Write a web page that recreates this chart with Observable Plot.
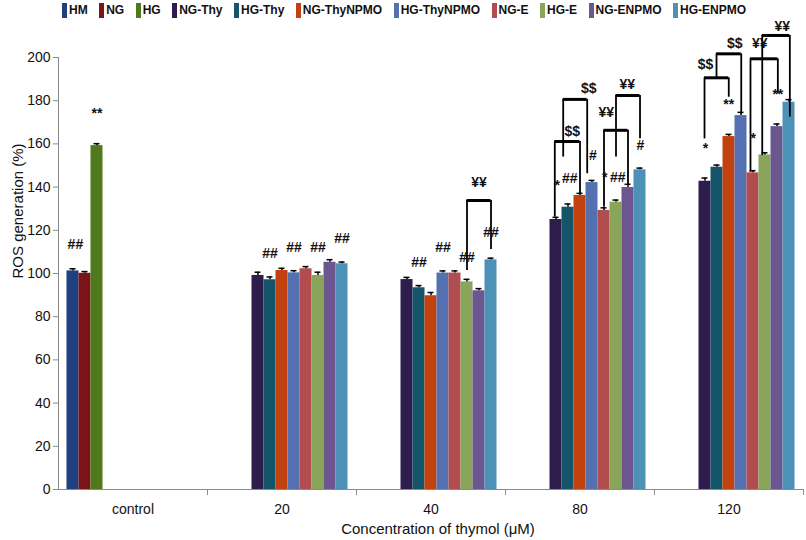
<!DOCTYPE html>
<html><head><meta charset="utf-8">
<script src="https://cdn.jsdelivr.net/npm/d3@7"></script>
<script src="https://cdn.jsdelivr.net/npm/@observablehq/plot@0.6"></script>
<style>
body{margin:0;background:#fff;font-family:"Liberation Sans",Arial,sans-serif;}
#legend{height:20px;display:flex;align-items:center;padding-left:62px;gap:11.5px;font-weight:bold;font-size:12px;color:#111;}
.item{display:flex;align-items:center;gap:2px;white-space:nowrap}
.sw{width:5px;height:15px;display:inline-block}
#chart svg{overflow:visible}
#chart svg text{fill:#111}
</style></head><body>
<div id="legend"></div><div id="chart"></div>
<script>
const categories = ["control", "20", "40", "80", "120"];
const seriesNames = ["HM", "NG", "HG", "NG-Thy", "HG-Thy", "NG-ThyNPMO", "HG-ThyNPMO", "NG-E", "HG-E", "NG-ENPMO", "HG-ENPMO"];
const seriesColors = ["#1f3f7f", "#7b1416", "#4e7a1d", "#2e1d4c", "#145569", "#c1420f", "#5470b0", "#b14d4f", "#88a55a", "#6b5690", "#4e91b7"];
const xTitle = "Concentration of thymol (μM)";
const yTitle = "ROS generation (%)";

// values per category: control, 20, 40, 80, 120
const HM         = [101.2, null, null, null, null];
const NG         = [100.1, null, null, null, null];
const HG         = [159.2, null, null, null, null];
const NG_Thy     = [null, 99.1, 97.2, 125.0, 142.7];
const HG_Thy     = [null, 97.1, 93.4, 130.7, 149.2];
const NG_ThyNPMO = [null, 101.4, 89.7, 136.1, 163.4];
const HG_ThyNPMO = [null, 100.3, 100.2, 142.1, 173.1];
const NG_E       = [null, 102.2, 100.2, 129.2, 146.6];
const HG_E       = [null, 99.1, 96.1, 133.0, 154.9];
const NG_ENPMO   = [null, 105.2, 92.0, 139.8, 168.0];
const HG_ENPMO   = [null, 104.5, 106.3, 148.0, 179.3];

// error (upper) per category
const HM_err         = [1.0, null, null, null, null];
const NG_err         = [0.8, null, null, null, null];
const HG_err         = [0.9, null, null, null, null];
const NG_Thy_err     = [null, 1.5, 1.0, 1.0, 1.5];
const HG_Thy_err     = [null, 1.3, 1.0, 1.5, 1.0];
const NG_ThyNPMO_err = [null, 1.0, 1.5, 1.0, 1.0];
const HG_ThyNPMO_err = [null, 1.0, 1.0, 1.0, 1.5];
const NG_E_err       = [null, 1.0, 1.0, 1.2, 1.0];
const HG_E_err       = [null, 1.5, 1.2, 1.0, 1.0];
const NG_ENPMO_err   = [null, 1.2, 1.0, 1.5, 1.2];
const HG_ENPMO_err   = [null, 0.8, 0.8, 0.8, 1.2];

// significance labels: [category, slot (series index), y value, text]
const sigLabels = [
  ["control", 0.2, 113.4, "##"], ["control", 2.0, 174, "**"],
  ["20", 4, 109.3, "##"], ["20", 6, 112, "##"], ["20", 8, 112, "##"], ["20", 10, 116.2, "##"],
  ["40", 4, 105, "##"], ["40", 6, 112, "##"], ["40", 8, 107.4, "##"], ["40", 10, 119, "##"], ["40", 9, 142.1, "¥¥"],
  ["80", 3.1, 140.7, "*"], ["80", 4.15, 143.8, "##"], ["80", 6.07, 154.6, "#"], ["80", 7.05, 144.3, "*"],
  ["80", 8.15, 144.6, "##"], ["80", 10.04, 159.3, "#"], ["80", 4.35, 165.9, "$$"], ["80", 5.73, 185.8, "$$"],
  ["80", 7.19, 174.4, "¥¥"], ["80", 8.93, 187.5, "¥¥"],
  ["120", 3.04, 157.7, "*"], ["120", 4.98, 178.1, "**"], ["120", 7.02, 162.7, "*"], ["120", 9.07, 182.7, "**"],
  ["120", 3.04, 196.6, "$$"], ["120", 5.48, 206.6, "$$"], ["120", 7.57, 206.6, "¥¥"], ["120", 9.43, 214.4, "¥¥"]
];
// comparison brackets: [category, slot A, slot B, top y, bottom A, bottom B]
const brackets = [
  ["40", 8, 10, 133.8, 101.4, 111.1],
  ["80", 2.9, 5.0, 161.1, 126.1, 137.0],
  ["80", 3.6, 5.6, 180.6, 153.9, 146.2],
  ["80", 7.0, 9.0, 166.3, 130.7, 140.7],
  ["80", 8.0, 10.0, 182.4, 153.9, 162.4],
  ["120", 2.96, 4.98, 190.6, 162.3, 181.6],
  ["120", 3.96, 6.02, 201.7, 190.6, 173.9],
  ["120", 6.79, 9.07, 199.4, 146.9, 183.2],
  ["120", 7.77, 10.07, 210.2, 154.6, 172.4]
];

const values = [HM, NG, HG, NG_Thy, HG_Thy, NG_ThyNPMO, HG_ThyNPMO, NG_E, HG_E, NG_ENPMO, HG_ENPMO];
const errors = [HM_err, NG_err, HG_err, NG_Thy_err, HG_Thy_err, NG_ThyNPMO_err, HG_ThyNPMO_err, NG_E_err, HG_E_err, NG_ENPMO_err, HG_ENPMO_err];

const PAD = 0.708;
const W = seriesNames.length + 2 * PAD;
const catIdx = c => categories.indexOf(c);
const slotX = (c, s) => c * W + PAD + s + 0.5;

const rows = [];
values.forEach((arr, s) => arr.forEach((v, c) => {
  if (v != null) rows.push({c, s, series: seriesNames[s], value: v, err: errors[s][c]});
}));
const labels = sigLabels.map(([cat, s, y, t]) => ({x: slotX(catIdx(cat), s), y, t}));
const tops = brackets.map(([cat, a, b, top]) => ({x1: slotX(catIdx(cat), a), x2: slotX(catIdx(cat), b), y: top}));
const legs = brackets.flatMap(([cat, a, b, top, ba, bb]) => [
  {x: slotX(catIdx(cat), a), y1: ba, y2: top},
  {x: slotX(catIdx(cat), b), y1: bb, y2: top}
]);

// legend
const legend = document.getElementById("legend");
seriesNames.forEach((n, i) => {
  const it = document.createElement("div"); it.className = "item";
  const sw = document.createElement("span"); sw.className = "sw"; sw.style.background = seriesColors[i];
  const tx = document.createElement("span"); tx.textContent = n;
  it.append(sw, tx); legend.append(it);
});

const plot = Plot.plot({
  width: 806, height: 520,
  marginLeft: 58, marginRight: 3, marginTop: 37, marginBottom: 51,
  style: {fontFamily: "'Liberation Sans', Arial, sans-serif", fontSize: "14px", color: "#8a8a8a", background: "transparent", overflow: "visible"},
  x: {domain: [0, categories.length * W], ticks: categories.map((_, i) => (i + 1) * W), tickFormat: () => "",
      tickSize: 6, line: true, label: null},
  y: {domain: [0, 200], ticks: d3.range(0, 201, 20), tickSize: 5, tickPadding: 3, line: true, label: null},
  color: {domain: seriesNames, range: seriesColors},
  marks: [
    Plot.rect(rows, {x1: d => slotX(d.c, d.s) - 0.5, x2: d => slotX(d.c, d.s) + 0.5, y1: () => 0, y2: "value", fill: "series"}),
    Plot.ruleX(rows, {x: d => slotX(d.c, d.s), y1: "value", y2: d => d.value + d.err, stroke: "#000", strokeWidth: 1.5}),
    Plot.ruleY(rows, {x1: d => slotX(d.c, d.s) - 0.25, x2: d => slotX(d.c, d.s) + 0.25, y: d => d.value + d.err, stroke: "#000", strokeWidth: 1.5}),
    Plot.ruleX(legs, {x: "x", y1: "y1", y2: "y2", stroke: "#000", strokeWidth: 1.8}),
    Plot.ruleY(tops, {x1: "x1", x2: "x2", y: "y", stroke: "#000", strokeWidth: 3}),
    Plot.text(labels, {x: "x", y: "y", text: "t", fontWeight: "bold", fontSize: 14, lineAnchor: "middle"}),
    Plot.text(categories, {x: (d, i) => i * W + W / 2, y: () => 0, dy: 20, fontSize: 14}),
    Plot.text([xTitle], {frameAnchor: "bottom", dx: 7, dy: 40, fontSize: 15, lineAnchor: "middle"}),
    Plot.text([yTitle], {frameAnchor: "left", rotate: -90, dx: -40, dy: 5, fontSize: 15, lineAnchor: "middle"})
  ]
});
document.getElementById("chart").append(plot);
</script>
</body></html>
